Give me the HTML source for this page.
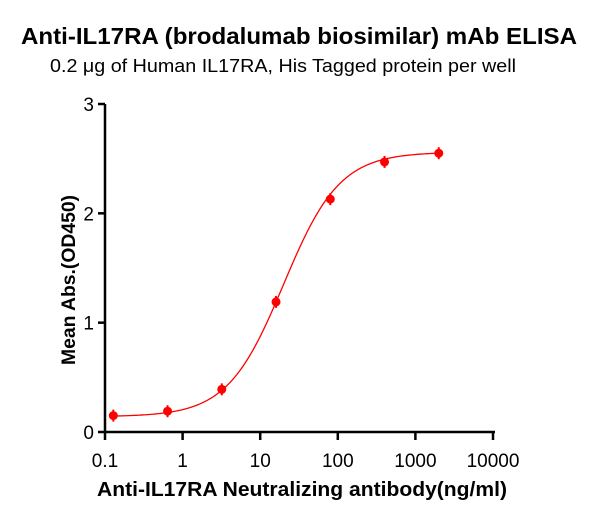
<!DOCTYPE html>
<html><head><meta charset="utf-8"><style>
body{margin:0;background:#fff;}
svg text{font-family:"Liberation Sans",Arial,sans-serif;}
</style></head><body>
<svg id="chart" width="600" height="518" viewBox="0 0 600 518">
<text x="299" y="44" text-anchor="middle" font-size="23" font-weight="bold" textLength="556" lengthAdjust="spacingAndGlyphs">Anti-IL17RA (brodalumab biosimilar) mAb ELISA</text>
<text x="283" y="72" text-anchor="middle" font-size="18" textLength="466" lengthAdjust="spacingAndGlyphs">0.2 μg of Human IL17RA, His Tagged protein per well</text>
<text x="302" y="496" text-anchor="middle" font-size="20" font-weight="bold" textLength="410" lengthAdjust="spacingAndGlyphs">Anti-IL17RA Neutralizing antibody(ng/ml)</text>
<text transform="translate(75,280) rotate(-90)" text-anchor="middle" font-size="19" font-weight="bold" textLength="170" lengthAdjust="spacingAndGlyphs">Mean Abs.(OD450)</text>
<g id="axes"></g>
<g id="plot"></g>
</svg>
<script>
const xValues=[0.128,0.64,3.2,16,80,400,2000];
const yValues=[0.15,0.19,0.39,1.19,2.13,2.47,2.55];
const xTicks=[0.1,1,10,100,1000,10000];
const xTickLabels=["0.1","1","10","100","1000","10000"];
const yTicks=[0,1,2,3];
const yTickLabels=["0","1","2","3"];
const fitBottom=0.14, fitTop=2.56, fitEC50=20, fitHill=1.2;
const X0=105,X1=493,Y0=432,Y1=104;
const xs=v=>X0+(Math.log10(v)+1)/5*(X1-X0);
const ys=v=>Y0-v/3*(Y0-Y1);
const NS="http://www.w3.org/2000/svg";
const axes=document.getElementById('axes'),plot=document.getElementById('plot');
function mk(t,a,p){const e=document.createElementNS(NS,t);for(const k in a)e.setAttribute(k,a[k]);p.appendChild(e);return e;}
let e=mk('line',{x1:X0,y1:Y0,x2:X1+2,y2:Y0,stroke:'#000','stroke-width':2.5},axes);


e=mk('line',{x1:X0,y1:Y0+1,x2:X0,y2:Y1,stroke:'#000','stroke-width':2.5},axes);


xTicks.forEach((v,i)=>{const x=xs(v);
 mk('line',{x1:x,y1:Y0,x2:x,y2:Y0+8,stroke:'#000','stroke-width':2.5},axes);
 const t=mk('text',{x:x,y:Y0+35,'text-anchor':'middle','font-size':19},axes);t.textContent=xTickLabels[i];
 
 
});
yTicks.forEach((v,i)=>{const y=ys(v);
 mk('line',{x1:X0-7,y1:y,x2:X0,y2:y,stroke:'#000','stroke-width':2.5},axes);
 const t=mk('text',{x:X0-11,y:y+7,'text-anchor':'end','font-size':19},axes);t.textContent=yTickLabels[i];
 
 
});
let d='';
for(let i=0;i<=200;i++){const lx=Math.log10(xValues[0])+i/200*(Math.log10(xValues[xValues.length-1])-Math.log10(xValues[0]));
 const x=Math.pow(10,lx);const y=fitBottom+(fitTop-fitBottom)/(1+Math.pow(fitEC50/x,fitHill));
 d+=(i?'L':'M')+xs(x).toFixed(2)+','+ys(y).toFixed(2);}
e=mk('path',{d:d,fill:'none',stroke:'#f00','stroke-width':1.3},plot);


xValues.forEach((v,i)=>{
 mk('line',{x1:xs(v),y1:ys(yValues[i])-6,x2:xs(v),y2:ys(yValues[i])+6,stroke:'#f00','stroke-width':2},plot);
 const c=mk('circle',{cx:xs(v),cy:ys(yValues[i]),r:4.5,fill:'#f00'},plot);
 
 
});
</script>
</body></html>
